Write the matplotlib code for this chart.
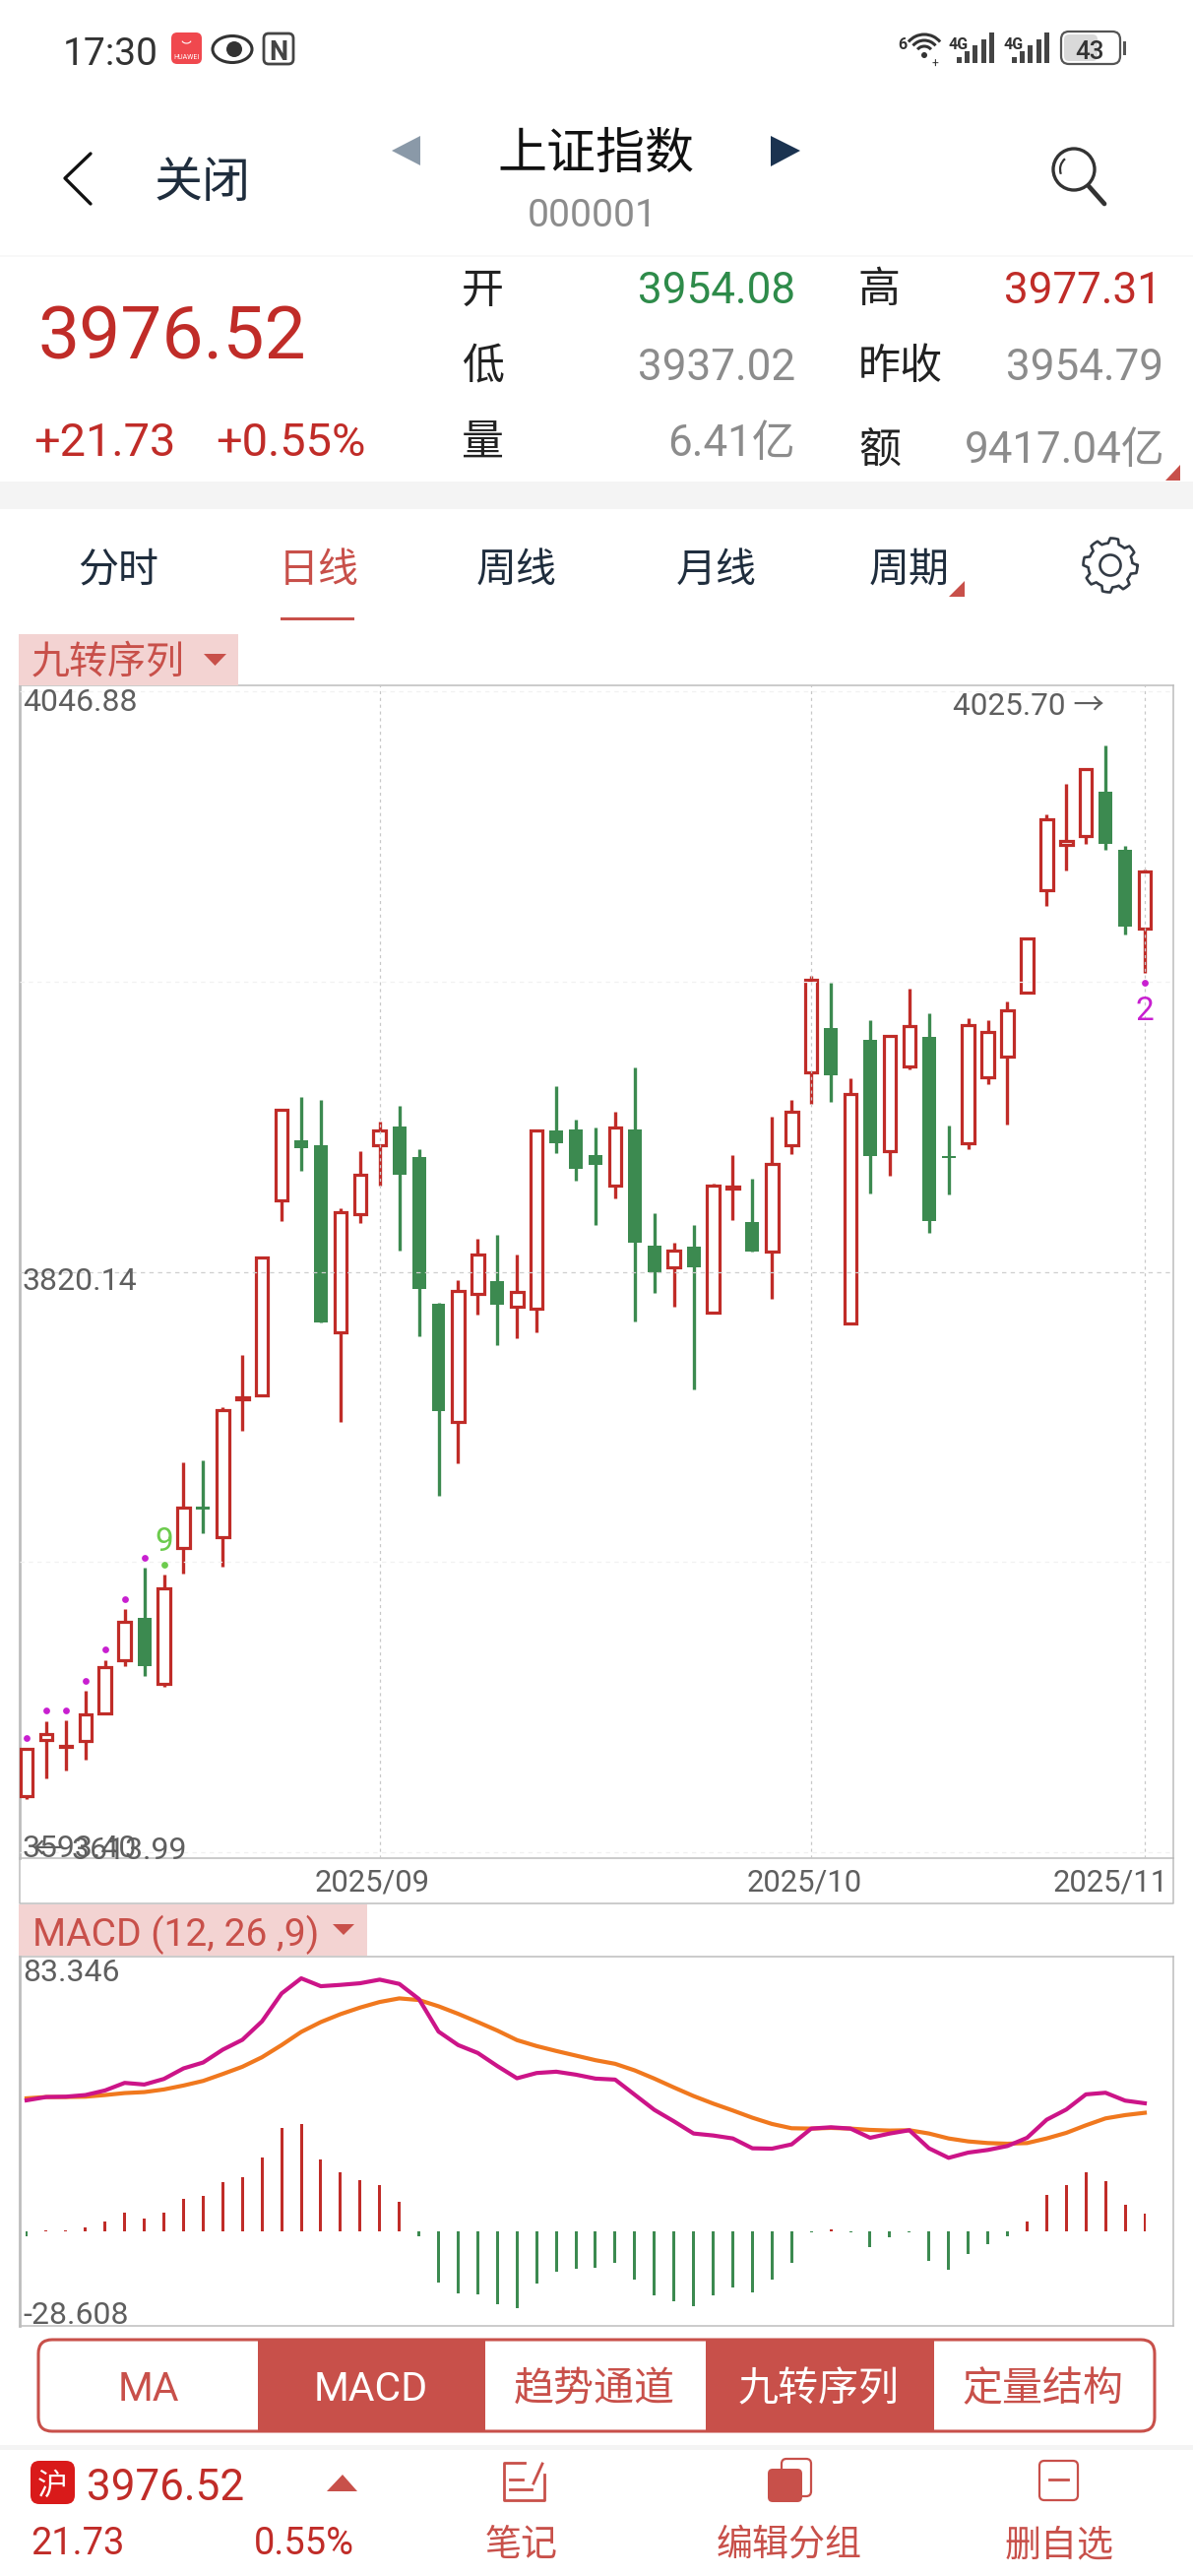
import numpy as np
import matplotlib
matplotlib.use('Agg')
import matplotlib.pyplot as plt
from matplotlib.patches import Rectangle, FancyBboxPatch, Polygon, Circle, Ellipse, Arc

plt.rcParams['font.family'] = ['Roboto', 'Noto Sans CJK SC', 'DejaVu Sans']

# candles
opens = [3615.3, 3637.3, 3634.4, 3636.9, 3647.6, 3668.5, 3685.1, 3659.2, 3712.2, 3728.0,
         3716.5, 3770.3, 3772.0, 3848.2, 3871.3, 3869.5, 3796.4, 3842.8, 3869.7, 3876.8,
         3865.1, 3807.7, 3761.5, 3811.4, 3816.5, 3806.3, 3805.9, 3875.4, 3875.9, 3865.8,
         3853.7, 3875.9, 3830.2, 3821.7, 3830.0, 3804.1, 3852.6, 3839.6, 3827.9, 3869.5,
         3898.2, 3915.3, 3799.9, 3910.6, 3867.4, 3900.4, 3911.9, 3865.0, 3870.4, 3896.0,
         3904.2, 3929.1, 3969.2, 3986.9, 3990.4, 4007.7, 3985.0, 3954.08]
highs = [3634.0, 3644.7, 3644.9, 3656.5, 3668.5, 3688.3, 3704.4, 3701.9, 3745.6, 3746.4,
         3767.1, 3787.8, 3825.7, 3883.6, 3888.4, 3887.1, 3844.8, 3867.4, 3878.8, 3885.1,
         3868.1, 3808.2, 3816.9, 3833.0, 3834.5, 3826.8, 3875.4, 3892.7, 3879.4, 3876.5,
         3882.5, 3899.8, 3843.0, 3831.5, 3838.4, 3854.6, 3865.9, 3856.5, 3880.7, 3887.3,
         3935.9, 3933.0, 3895.7, 3918.3, 3912.2, 3930.9, 3921.0, 3877.3, 3919.0, 3918.3,
         3925.9, 3950.3, 3998.9, 4010.6, 4016.5, 4025.7, 3986.5, 3977.31]
lows = [3614.0, 3622.2, 3625.3, 3629.4, 3647.6, 3666.2, 3662.4, 3658.2, 3702.1, 3717.9,
        3704.9, 3757.9, 3772.0, 3839.9, 3859.6, 3800.2, 3761.4, 3839.3, 3853.7, 3828.6,
        3794.9, 3732.8, 3745.2, 3803.5, 3791.5, 3794.0, 3796.3, 3866.3, 3855.9, 3838.4,
        3848.9, 3800.8, 3811.8, 3806.3, 3774.3, 3804.1, 3840.4, 3828.1, 3809.6, 3866.2,
        3885.6, 3886.3, 3799.9, 3850.9, 3857.6, 3899.3, 3835.4, 3850.4, 3868.2, 3893.4,
        3877.6, 3929.1, 3963.2, 3976.9, 3987.3, 3984.9, 3951.8, 3937.02]
closes = [3633.9, 3639.4, 3634.9, 3647.2, 3665.7, 3683.3, 3666.2, 3696.6, 3727.9, 3727.2,
          3766.2, 3771.1, 3825.7, 3883.6, 3868.3, 3800.2, 3843.5, 3857.9, 3875.4, 3858.2,
          3813.4, 3765.8, 3812.5, 3826.8, 3807.3, 3812.1, 3875.4, 3870.4, 3860.4, 3861.8,
          3876.3, 3831.5, 3820.0, 3828.5, 3821.7, 3853.7, 3853.3, 3828.1, 3862.4, 3882.8,
          3934.0, 3897.0, 3889.7, 3865.2, 3912.2, 3916.1, 3839.8, 3864.4, 3916.4, 3913.7,
          3922.4, 3950.3, 3996.8, 3988.5, 4016.5, 3987.2, 3954.8, 3976.52]

# nine turn dots: candle index, price
dot_idx = [0, 1, 2, 3, 4, 5, 6, 57]
dot_price = [3638.0, 3648.8, 3648.8, 3660.3, 3672.6, 3692.2, 3708.4, 3933.2]
green_dot_idx = [7]
green_dot_price = [3705.7]

# macd
dif = [40.0, 41.0, 41.1, 41.6, 43.0, 45.3, 44.8, 46.5, 49.7, 51.5,
       55.4, 58.4, 64.0, 72.5, 77.1, 74.7, 75.1, 75.6, 76.7, 75.4,
       70.8, 60.9, 56.8, 54.4, 50.4, 46.7, 48.3, 48.7, 47.8, 46.6,
       46.3, 41.7, 37.1, 33.6, 29.9, 29.3, 28.4, 25.4, 25.3, 26.6,
       31.4, 31.8, 31.4, 28.6, 29.9, 30.9, 25.4, 22.5, 24.1, 24.9,
       26.1, 28.6, 34.1, 37.2, 41.8, 42.3, 39.9, 39.1]
dea = [40.6, 41.0, 41.0, 41.1, 41.6, 42.2, 42.5, 43.3, 44.5, 45.9,
       48.0, 50.2, 53.1, 56.8, 60.8, 63.8, 66.2, 68.2, 69.9, 71.0,
       70.5, 68.6, 66.3, 63.8, 61.2, 58.3, 56.5, 55.0, 53.6, 52.2,
       51.1, 49.1, 46.6, 43.9, 41.3, 39.0, 36.9, 34.7, 32.8, 31.5,
       31.4, 31.6, 31.4, 31.0, 30.8, 30.9, 29.9, 28.4, 27.5, 27.0,
       26.8, 27.0, 28.4, 30.1, 32.4, 34.5, 35.5, 36.2]
hist = [-1.5, 0.3, 0.3, 1.3, 3.2, 5.7, 4.1, 5.9, 9.9, 11.0,
        15.1, 16.6, 22.7, 31.6, 32.7, 22.0, 18.2, 15.7, 14.1, 9.0,
        -1.5, -15.3, -18.6, -19.1, -22.0, -23.1, -15.8, -12.0, -11.2, -10.9,
        -9.3, -14.4, -19.2, -21.0, -22.5, -19.2, -16.8, -18.3, -14.5, -9.5,
        -0.1, 0.7, -0.2, -4.5, -1.7, -0.1, -8.8, -11.5, -6.6, -3.9,
        -1.5, 3.2, 11.3, 14.3, 18.2, 15.5, 8.3, 5.5]

price_ticks = [4046.88, 3933.51, 3820.14, 3706.77, 3593.40]
date_idx = [18, 40, 57]
date_labels = ['2025/09', '2025/10', '2025/11']

W, H = 1212, 2616
RED = '#C02C28'
GREEN = '#3C8A50'
TAB = '#C8504A'
PINK = '#F3D3D2'
GRAY = '#8C8C8C'
AXT = '#5F5F5F'
NAVY = '#1F2D3D'
FRAME = '#BDBDBD'

fig = plt.figure(figsize=(W / 100, H / 100), dpi=100, facecolor='white')


def add_ax(x0, y0, x1, y1):
    ax = fig.add_axes([x0 / W, 1 - y1 / H, (x1 - x0) / W, (y1 - y0) / H])
    ax.set_xlim(-0.351, 58.455)
    ax.set_xticks([])
    ax.set_yticks([])
    for s in ax.spines.values():
        s.set_color(FRAME)
        s.set_linewidth(1.1)
    ax.spines['left'].set_linewidth(2.0)
    return ax


# kline panel
ax = add_ax(20, 696, 1192, 1887)
ax.set_ylim(3591.09, 4049.19)
n = np.arange(len(closes))
for i in n:
    o, h, l, c = opens[i], highs[i], lows[i], closes[i]
    top, bot = max(o, c), min(o, c)
    if c >= o:
        ax.vlines(i, top, h, color=RED, lw=2.4, zorder=2)
        ax.vlines(i, l, bot, color=RED, lw=2.4, zorder=2)
        ax.bar(i, top - bot, bottom=bot, width=0.63, facecolor='white', edgecolor=RED,
               linewidth=2.3, zorder=3)
    else:
        ax.vlines(i, l, h, color=GREEN, lw=2.4, zorder=2)
        ax.bar(i, max(top - bot, 1.1), bottom=bot, width=0.7, color=GREEN, zorder=3)
for k, p in enumerate(price_ticks):
    col = '#CFCFCF' if k == 2 else '#F1F1F1'
    ax.axhline(p, color=col, lw=0.9, ls=(0, (3.5, 3.5)), zorder=4)
for i in date_idx:
    ax.axvline(i, color='#C8C8C8', lw=0.9, ls=(0, (2.5, 3)), zorder=4)
ax.scatter(dot_idx, dot_price, s=24, color='#C81FD0', linewidths=0, zorder=5)
ax.scatter(green_dot_idx, green_dot_price, s=24, color='#6CCB4D', linewidths=0, zorder=5)
ax.text(7, 3714.5, '9', color='#6CCB4D', fontsize=24, ha='center', va='center', zorder=5)
ax.text(57, 3921.7, '2', color='#C81FD0', fontsize=24, ha='center', va='center', zorder=5)

# macd panel
ax2 = add_ax(20, 1987, 1192, 2362)
ax2.set_ylim(-28.608, 83.7)
cols = [RED if v >= 0 else GREEN for v in hist]
ax2.bar(n, hist, width=0.15, color=cols, zorder=2)
ax2.plot(n, dea, color='#F0781E', lw=3.0, zorder=3)
ax2.plot(n, dif, color='#CC1488', lw=3.0, zorder=4)

# everything else in pixel coords
ui = fig.add_axes([0, 0, 1, 1], zorder=10)
ui.set_xlim(0, W)
ui.set_ylim(H, 0)
ui.axis('off')
ui.patch.set_alpha(0)


def T(x, y, s, size, color='#222222', ha='left', **kw):
    # size is em height in pixels, text sits a bit high so push it down
    ui.text(x, y + 16, s, fontsize=size * 0.72, color=color, ha=ha, va='center', **kw)


def box(x0, y0, x1, y1, color, z=1):
    ui.add_patch(Rectangle((x0, y0), x1 - x0, y1 - y0, fc=color, ec='none', zorder=z))


def tri(pts, color):
    ui.add_patch(Polygon(pts, closed=True, fc=color, ec='none', zorder=3))


def rbox(x0, y0, x1, y1, r, fc, ec='none', lw=0, z=2):
    ui.add_patch(FancyBboxPatch((x0 + r, y0 + r), x1 - x0 - 2 * r, y1 - y0 - 2 * r,
                                boxstyle='round,pad=%f' % r, fc=fc, ec=ec, lw=lw, zorder=z))


# status bar
T(64, 39, '17:30', 39, '#333333')
rbox(174, 33, 205, 65, 6, '#F0484E')
T(189.5, 42, 'HUAWEI', 7, 'white', ha='center', zorder=4)
ui.add_patch(Arc((189.5, 40), 10, 8, theta1=20, theta2=160, color='white', lw=0.8, zorder=3))
ui.add_patch(Ellipse((236, 50), 40, 27, fc='none', ec='#333333', lw=2.2, zorder=3))
ui.add_patch(Circle((238, 50), 8, fc='#333333', ec='none', zorder=3))
rbox(268, 34, 298, 65, 5, 'white', ec='#444444', lw=2.0)
T(283, 37.5, 'N', 27, '#444444', ha='center', fontweight='bold', zorder=4)
T(912, 30, '6', 16, '#333333', fontweight='bold')
for r in [18, 12, 6]:
    ui.add_patch(Arc((939, 56), 2 * r + 6, 2 * r + 6, theta1=220, theta2=320, color='#333333', lw=2.2, zorder=3))
ui.add_patch(Circle((939, 56), 3, fc='#333333', ec='none', zorder=3))
T(950, 49, '+', 12, '#333333', ha='center')
for x0 in [964, 1020]:
    T(x0, 29, '4G', 16, '#333333', fontweight='bold')
    for k, top in enumerate([58, 52, 46, 40, 33]):
        box(x0 + 8 + k * 8.2, top, x0 + 13 + k * 8.2, 64, '#444444')
rbox(1078, 32, 1138, 65, 8, 'white', ec='#555555', lw=1.6)
rbox(1081, 35, 1115, 62, 5, '#D9D9D9', z=3)
T(1107, 37.5, '43', 26, '#333333', ha='center', fontweight='medium', zorder=4)
box(1141, 42, 1144, 56, '#555555')

# title bar
ui.plot([92, 66, 92], [156, 181, 207], color='#111111', lw=2.4, solid_capstyle='round')
T(157, 171, '关闭', 49, NAVY)
tri([(427, 138), (427, 168), (398, 153)], '#8A99A8')
T(605, 141, '上证指数', 50, '#111111', ha='center')
tri([(783, 138), (783, 169), (813, 153)], '#1B3350')
T(602, 204, '000001', 39, GRAY, ha='center')
ui.add_patch(Circle((1091, 172), 21, fc='none', ec='#333333', lw=2.4, zorder=3))
ui.add_patch(Arc((1091, 172), 28, 28, theta1=160, theta2=230, color='#333333', lw=1.6, zorder=3))
ui.plot([1106, 1122], [189, 207], color='#333333', lw=3.4, solid_capstyle='round')
box(0, 259, W, 261, '#F8F8F8')

# quote block
T(38, 328, '3976.52', 75, RED)
T(34, 434, '+21.73', 47, RED)
T(219, 434, '+0.55%', 47, RED)
for x, y, s in [(469, 280, '开'), (469, 357, '低'), (469, 435, '量'),
                (872, 280, '高'), (872, 357, '昨收'), (872, 442, '额')]:
    T(x, y, s, 43, '#222222')
T(808, 280, '3954.08', 44, '#2E8B4A', ha='right')
T(1180, 280, '3977.31', 44, RED, ha='right')
T(808, 358, '3937.02', 44, GRAY, ha='right')
T(1182, 358, '3954.79', 44, GRAY, ha='right')
T(808, 435, '6.41亿', 44, GRAY, ha='right')
T(1184, 442, '9417.04亿', 44, GRAY, ha='right')
box(0, 489, W, 517, '#F4F4F4')
tri([(1199, 472), (1199, 488), (1184, 488)], TAB)

# period tabs
for x, s, c in [(79, '分时', NAVY), (283, '日线', TAB), (484, '周线', NAVY), (687, '月线', NAVY), (883, '周期', NAVY)]:
    T(x, 563, s, 41, c)
box(285, 627, 360, 630, TAB)
tri([(980, 590), (980, 606), (964, 606)], TAB)
ang = np.linspace(0, 2 * np.pi, 65)
rad = 25 + 2.5 * np.sign(np.sin(8 * ang + 0.4))
ui.plot(1128 + rad * np.cos(ang), 574 + rad * np.sin(ang), color='#333B45', lw=1.9)
ui.add_patch(Circle((1128, 574), 10.5, fc='none', ec='#333B45', lw=1.9, zorder=3))

# indicator labels
box(19, 644, 242, 696, PINK)
T(32, 658, '九转序列', 39, TAB)
tri([(207, 664), (230, 664), (218.5, 676)], TAB)
T(23, 698, '4046.88', 32, AXT)
T(23, 1285, '3820.14', 32, AXT)
T(23, 1861, '3593.40', 32, AXT)
T(33, 1864, '← 3613.99', 32, AXT)
T(1122, 702, '4025.70 →', 31.5, AXT, ha='right')

# date strip
ui.plot([20, 20, 1192, 1192], [1887, 1933, 1933, 1887], color=FRAME, lw=1.1)
T(378, 1896, date_labels[0], 31, AXT, ha='center')
T(817, 1896, date_labels[1], 31, AXT, ha='center')
T(1187, 1896, date_labels[2], 31, AXT, ha='right')

box(19, 1934, 373, 1986, PINK)
T(33, 1949, 'MACD (12, 26 ,9)', 39, TAB)
tri([(338, 1954), (360, 1954), (349, 1965)], TAB)
T(23, 1988, '83.346', 32, AXT)
T(23, 2336, '-28.608', 32, AXT)

# indicator buttons
rbox(39, 2376, 1173, 2469, 14, 'white', ec=TAB, lw=2.2)
box(262, 2377, 493, 2468, TAB, z=3)
box(717, 2377, 949, 2468, TAB, z=3)
for x, s, c in [(151, 'MA', TAB), (377, 'MACD', 'white'), (604, '趋势通道', TAB),
                (832, '九转序列', 'white'), (1060, '定量结构', TAB)]:
    T(x, 2411, s, 41, c, ha='center', zorder=4)

# bottom bar
box(0, 2483, W, 2488, '#F4F4F4')
rbox(31, 2499, 76, 2543, 9, '#D91A1A')
T(53.5, 2509, '沪', 31, 'white', ha='center', zorder=4)
T(88, 2511, '3976.52', 44, RED)
tri([(348, 2513), (363, 2530), (332, 2530)], TAB)
T(31, 2568, '21.73', 38, RED)
T(258, 2568, '0.55%', 38, RED)
T(530, 2569, '笔记', 37, TAB, ha='center')
T(802, 2569, '编辑分组', 37, TAB, ha='center')
T(1076, 2569, '删自选', 37, TAB, ha='center')
# note icon
ui.plot([533, 512, 512, 553, 553], [2501, 2501, 2539, 2539, 2513], color=TAB, lw=2)
ui.plot([542, 551], [2522, 2502], color=TAB, lw=2)
ui.plot([518, 531], [2518, 2518], color=TAB, lw=2)
ui.plot([518, 540], [2528, 2528], color=TAB, lw=2)
# group icon
rbox(794, 2497, 824, 2535, 5, 'white', ec=TAB, lw=1.6)
rbox(780, 2507, 815, 2541, 5, TAB, z=3)
# delete icon
rbox(1056, 2499, 1095, 2539, 5, 'white', ec=TAB, lw=1.6)
ui.plot([1066, 1085], [2518, 2518], color=TAB, lw=2, zorder=4)

fig.savefig('out.png', dpi=100)
